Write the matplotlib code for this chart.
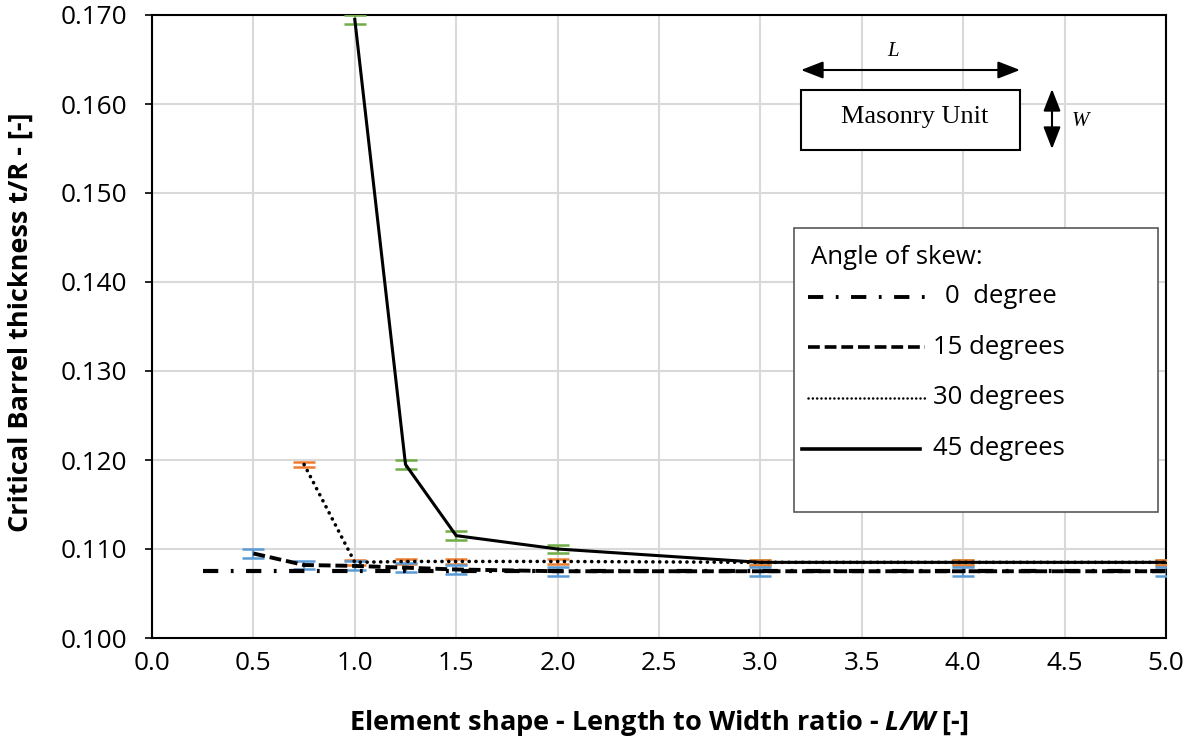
import matplotlib
matplotlib.use("Agg")
import matplotlib.pyplot as plt
from matplotlib.lines import Line2D
from matplotlib.patches import Rectangle, FancyArrowPatch

plt.rcParams['lines.scale_dashes'] = False
plt.rcParams['mathtext.fontset'] = 'custom'
plt.rcParams['mathtext.bfit'] = 'Open Sans:italic:bold'
plt.rcParams['mathtext.bf'] = 'Open Sans:bold'
plt.rcParams['mathtext.rm'] = 'Open Sans'
plt.rcParams['mathtext.it'] = 'Open Sans:italic'

# ---------------- data ----------------
x_0 = [0.25, 0.5, 0.75, 1.0, 1.25, 1.5, 2.0, 3.0, 4.0, 5.0]
y_0 = [0.1075, 0.1075, 0.1075, 0.1075, 0.1075, 0.1075, 0.1075, 0.1075, 0.1075, 0.1075]

x_15 = [0.5, 0.75, 1.0, 1.25, 1.5, 2.0, 3.0, 4.0, 5.0]
y_15 = [0.1095, 0.1082, 0.1081, 0.1079, 0.1077, 0.1075, 0.1075, 0.1075, 0.1075]
err_15 = 0.0005

x_30 = [0.75, 1.0, 1.25, 1.5, 2.0, 3.0, 4.0, 5.0]
y_30 = [0.1195, 0.1085, 0.1086, 0.1086, 0.1086, 0.1085, 0.1085, 0.1085]
err_30 = 0.0003

x_45 = [1.0, 1.25, 1.5, 2.0, 3.0, 4.0, 5.0]
y_45 = [0.1695, 0.1195, 0.1115, 0.1100, 0.1085, 0.1085, 0.1085]
err_45 = [0.0005, 0.0005, 0.0005, 0.0005, 0.0003, 0.0003, 0.0003]

legend_labels = ["0  degree", "15 degrees", "30 degrees", "45 degrees"]
x_ticks = [0.0, 0.5, 1.0, 1.5, 2.0, 2.5, 3.0, 3.5, 4.0, 4.5, 5.0]
y_ticks = [0.100, 0.110, 0.120, 0.130, 0.140, 0.150, 0.160, 0.170]

# ---------------- figure ----------------
W, H = 1189, 742
fig = plt.figure(figsize=(W / 100, H / 100), dpi=100)


def fx(px):
    return px / W


def fy(py):
    return 1 - py / H


FONT = "Open Sans"
ax = fig.add_axes([fx(152), fy(638), fx(1166) - fx(152), fy(15) - fy(638)])
ax.set_xlim(0, 5)
ax.set_ylim(0.100, 0.170)
ax.set_xticks(x_ticks)
ax.set_yticks(y_ticks)
ax.set_xticklabels([f"{v:.1f}" for v in x_ticks])
ax.set_yticklabels([f"{v:.3f}" for v in y_ticks])
ax.grid(True, color="#D9D9D9", linewidth=1.5)
ax.set_axisbelow(True)
for s in ax.spines.values():
    s.set_linewidth(1.5)
    s.set_color("black")

for lab in ax.get_xticklabels() + ax.get_yticklabels():
    lab.set_fontfamily(FONT)
    lab.set_fontsize(18.8)
ax.tick_params(axis="y", direction="out", length=5, width=1.2, pad=13)
ax.tick_params(axis="x", direction="out", length=0, pad=9)

ax.set_xlabel(r"Element shape - Length to Width ratio - $\mathbfit{L/W}$ [-]",
              fontfamily=FONT, fontweight="bold", fontsize=19.5, va="center")
ax.set_ylabel("Critical Barrel thickness t/R - [-]",
              fontfamily=FONT, fontweight="bold", fontsize=19.5, va="center")
ax.xaxis.set_label_coords((659 - 152) / 1014, (638 - 723) / 623)
ax.yaxis.set_label_coords((21 - 152) / 1014, (638 - 322) / 623)

# error bars
ebkw = dict(fmt="none", capsize=8, elinewidth=1.6, capthick=1.8, zorder=3)
ax.errorbar(x_45, y_45, yerr=err_45, ecolor="#70AD47", **ebkw)
ax.errorbar(x_30, y_30, yerr=err_30, ecolor="#ED7D31", **ebkw)
ax.errorbar(x_15, y_15, yerr=err_15, ecolor="#5B9BD5", **ebkw)

style_0 = dict(color="black", linewidth=3.0, linestyle=(0, (11, 9, 2, 9)))
style_15 = dict(color="black", linewidth=2.8, linestyle=(0, (8.5, 3.5)))
style_30 = dict(color="black", linewidth=2.6, linestyle=(0, (0.1, 4.8)), dash_capstyle="round")
style_45 = dict(color="black", linewidth=2.2, linestyle="-")

ax.plot(x_0, y_0, zorder=4, **style_0)
ax.plot(x_15, y_15, zorder=4, **style_15)
ax.plot(x_30, y_30, zorder=4, **style_30)
ax.plot(x_45, y_45, zorder=4, **style_45)

# ---------------- custom legend ----------------
fig.patches.append(Rectangle((fx(794), fy(512)), fx(1158) - fx(794), fy(228) - fy(512),
                             transform=fig.transFigure, facecolor="white",
                             edgecolor="#595959", linewidth=1.2, zorder=5))
LFS = 18.5
fig.text(fx(811), fy(258), "Angle of skew:", fontfamily=FONT, fontsize=LFS,
         va="center", ha="left", zorder=6)
rows_y = [297, 347, 398, 449]
legend_styles = [
    dict(style_0, linewidth=2.8),
    dict(style_15, linewidth=2.6),
    dict(style_30, linewidth=1.8, linestyle=(0, (0.1, 3.0))),
    dict(style_45, linewidth=2.6),
]
handle_x = [(808, 925), (808, 925), (808, 925), (802, 920)]
text_x = [945, 933, 933, 933]
for ry, st, (hx0, hx1), tx, lbl in zip(rows_y, legend_styles, handle_x, text_x, legend_labels):
    fig.add_artist(Line2D([fx(hx0), fx(hx1)], [fy(ry), fy(ry)], transform=fig.transFigure,
                          zorder=6, **st))
    fig.text(fx(tx), fy(ry), lbl, fontfamily=FONT, fontsize=LFS,
             va="center", ha="left", zorder=6)

# ---------------- inset sketch ----------------
fig.patches.append(Rectangle((fx(801), fy(150)), fx(1020) - fx(801), fy(90) - fy(150),
                             transform=fig.transFigure, facecolor="white",
                             edgecolor="black", linewidth=1.5, zorder=5))
fig.text(fx(915), fy(117), "Masonry Unit", fontfamily="Liberation Serif", fontsize=19,
         ha="center", va="center", zorder=6)
arrow_kw = dict(arrowstyle="<|-|>,head_length=0.9,head_width=0.35", color="black",
                lw=1.5, shrinkA=0, shrinkB=0)
fig.add_artist(FancyArrowPatch((fx(801), fy(70)), (fx(1020), fy(70)),
                               transform=fig.transFigure, mutation_scale=15, zorder=6,
                               **arrow_kw))
fig.add_artist(FancyArrowPatch((fx(1052), fy(89)), (fx(1052), fy(149)),
                               transform=fig.transFigure, mutation_scale=15, zorder=6,
                               **arrow_kw))
fig.text(fx(893), fy(52), "L", fontfamily="Liberation Serif", style="italic", fontsize=15,
         ha="center", va="center")
fig.text(fx(1080), fy(122), "W", fontfamily="Liberation Serif", style="italic", fontsize=15,
         ha="center", va="center")

fig.savefig("out.png", dpi=100)
